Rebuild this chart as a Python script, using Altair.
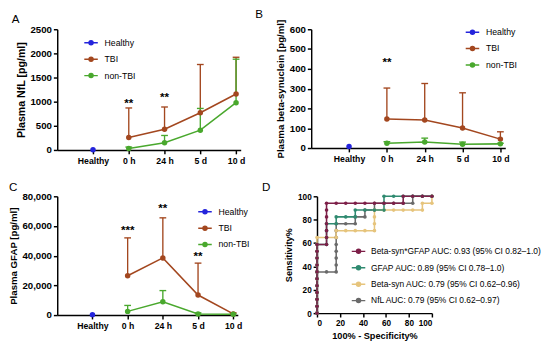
import altair as alt
import pandas as pd

FONT = "Liberation Sans"

# ---------------- shared categories / groups ----------------
categories = ["Healthy", "0 h", "24 h", "5 d", "10 d"]
groups = ["Healthy", "TBI", "non-TBI"]
group_colors = ["#2424dc", "#a3471f", "#49a82d"]

# ---------------- Panel A: NfL ----------------
nfl_healthy = [5]
nfl_tbi_mean = [260, 430, 770, 1160]
nfl_tbi_upper = [870, 890, 1770, 1920]
nfl_non_mean = [30, 150, 410, 980]
nfl_non_upper = [60, 300, 860, 1880]
nfl_star_cat = ["0 h", "24 h"]
nfl_star_val = [980, 1090]
nfl_star_txt = ["**", "**"]

# ---------------- Panel B: beta-synuclein ----------------
bsyn_healthy = [8]
bsyn_tbi_mean = [147, 142, 101, 45]
bsyn_tbi_upper = [303, 326, 279, 82]
bsyn_non_mean = [24, 30, 19, 21]
bsyn_non_upper = [32, 50, 30, 24]
bsyn_star_cat = ["0 h"]
bsyn_star_val = [435]
bsyn_star_txt = ["**"]

# ---------------- Panel C: GFAP ----------------
gfap_healthy = [300]
gfap_tbi_mean = [26500, 38500, 13500, 800]
gfap_tbi_upper = [52000, 65500, 35000, 1500]
gfap_non_mean = [2500, 9000, 800, 500]
gfap_non_upper = [6500, 16500, 1500, 800]
gfap_star_cat = ["0 h", "24 h", "5 d"]
gfap_star_val = [57500, 72000, 40000]
gfap_star_txt = ["***", "**", "**"]

# ---------------- Panel D: ROC ----------------
roc_names = [
    "Beta-syn*GFAP AUC: 0.93 (95% CI 0.82\u20131.0)",
    "GFAP AUC: 0.89 (95% CI 0.78\u20131.0)",
    "Beta-syn AUC: 0.79 (95% CI 0.62\u20130.96)",
    "NfL AUC: 0.79 (95% CI 0.62\u20130.97)",
]
roc_colors = ["#7d1f48", "#2f8a70", "#e6c47c", "#6a6a6a"]

combo_fpr = [0, 0, 0, 0, 0, 0, 0, 0, 0, 0, 0, 8.3, 8.3, 8.3, 8.3, 8.3, 8.3, 8.3,
             16.7, 25, 33.3, 41.7, 50, 58.3, 66.7, 75, 75, 83.3, 91.7, 100]
combo_tpr = [0, 5.9, 11.8, 17.6, 23.5, 29.4, 35.3, 41.2, 47.1, 52.9, 58.8, 58.8, 64.7, 70.6, 76.5, 82.4, 88.2, 94.1,
             94.1, 94.1, 94.1, 94.1, 94.1, 94.1, 94.1, 94.1, 100, 100, 100, 100]

gfap_fpr = [0, 0, 0, 0, 0, 0, 0, 0, 0, 0, 0, 8.3, 8.3, 8.3, 8.3, 16.7, 16.7, 25, 33.3, 33.3,
            41.7, 50, 58.3, 58.3, 58.3, 66.7, 75, 83.3, 91.7, 100]
gfap_tpr = [0, 5.9, 11.8, 17.6, 23.5, 29.4, 35.3, 41.2, 47.1, 52.9, 58.8, 58.8, 64.7, 70.6, 76.5, 76.5, 82.4, 82.4, 82.4, 88.2,
            88.2, 88.2, 88.2, 94.1, 100, 100, 100, 100, 100, 100]

bs_fpr = [0, 0, 0, 0, 0, 0, 0, 0, 0, 0, 0, 0, 8.3, 16.7, 16.7, 25, 33.3, 41.7, 50, 50, 50, 50,
          58.3, 66.7, 75, 83.3, 91.7, 91.7, 100, 100]
bs_tpr = [0, 5.9, 11.8, 17.6, 23.5, 29.4, 35.3, 41.2, 47.1, 52.9, 58.8, 64.7, 64.7, 64.7, 70.6, 70.6, 70.6, 70.6, 70.6, 76.5, 82.4, 88.2,
          88.2, 88.2, 88.2, 88.2, 88.2, 94.1, 94.1, 100]

nfl_fpr = [0, 0, 0, 0, 0, 0, 0, 8.3, 16.7, 16.7, 16.7, 16.7, 16.7, 16.7, 16.7, 16.7, 25, 33.3, 33.3, 41.7, 41.7,
           50, 50, 58.3, 66.7, 75, 83.3, 83.3, 91.7, 100]
nfl_tpr = [0, 5.9, 11.8, 17.6, 23.5, 29.4, 35.3, 35.3, 35.3, 41.2, 47.1, 52.9, 58.8, 64.7, 70.6, 76.5, 76.5, 76.5, 82.4, 82.4, 88.2,
           88.2, 94.1, 94.1, 94.1, 94.1, 94.1, 100, 100, 100]

# ---------------- helpers ----------------
LEGEND_PATH = ("M-1,0H1"
               "M-0.3,0A0.3,0.3,0,1,0,0.3,0A0.3,0.3,0,1,0,-0.3,0"
               "M-0.17,0A0.17,0.17,0,1,0,0.17,0A0.17,0.17,0,1,0,-0.17,0"
               "M-0.05,0A0.05,0.05,0,1,0,0.05,0A0.05,0.05,0,1,0,-0.05,0")

label_expr = "[''," + ",".join("'" + c + "'" for c in categories) + "][datum.value]"


def letter_title(letter, dx):
    return alt.TitleParams(letter, anchor="start", frame="group", dx=dx, offset=-2,
                           font=FONT, fontSize=12, fontWeight="normal", color="black")


def group_frame(healthy, tbi_mean, tbi_upper, non_mean, non_upper):
    rows = [dict(group="Healthy", pos=1, mean=healthy[0], upper=healthy[0])]
    for i, c in enumerate(categories[1:]):
        p = categories.index(c) + 1
        rows.append(dict(group="TBI", pos=p, mean=tbi_mean[i], upper=tbi_upper[i]))
        rows.append(dict(group="non-TBI", pos=p, mean=non_mean[i], upper=non_upper[i]))
    return pd.DataFrame(rows)


def star_frame(cats, vals, txts):
    return pd.DataFrame({"pos": [categories.index(c) + 1 for c in cats], "mean": vals, "txt": txts})


def group_panel(df, stars, ymax, ystep, yfmt, ytitle, tsize, width, height,
                letter, letter_dx, lx, ly):
    xaxis = alt.Axis(values=[1, 2, 3, 4, 5], labelExpr=label_expr, title=None,
                     labelFontSize=9, labelFontWeight="bold", labelPadding=3)
    xscale = alt.Scale(domain=[0, 5.13], nice=False, zero=False)
    x = alt.X("pos:Q", scale=xscale, axis=xaxis)
    yvals = list(range(0, ymax + 1, ystep))
    yaxis = alt.Axis(values=yvals, format=yfmt, title=ytitle, titleFontSize=tsize,
                     titleFontWeight="bold", labelFontSize=10, labelFontWeight="bold",
                     labelPadding=2, titlePadding=4, labelOverlap=False)
    yscale = alt.Scale(domain=[0, ymax], nice=False)
    y = alt.Y("mean:Q", scale=yscale, axis=yaxis)
    yu = alt.Y("upper:Q", scale=yscale, axis=yaxis)
    color = alt.Color("group:N", scale=alt.Scale(domain=groups, range=group_colors),
                      legend=alt.Legend(title=None, orient="none", legendX=lx, legendY=ly,
                                        symbolType=LEGEND_PATH, symbolSize=196,
                                        symbolStrokeWidth=1.5, symbolOpacity=1,
                                        labelFont=FONT, labelFontSize=9, labelColor="black",
                                        rowPadding=3, labelOffset=6))
    base = alt.Chart(df)
    err = base.transform_filter("datum.group != 'Healthy'")
    rules = err.mark_rule(strokeWidth=1.4).encode(x=x, y=y, y2="upper:Q", color=color)
    caps = err.mark_tick(orient="horizontal", size=7, thickness=1.4, opacity=1).encode(
        x=x, y=yu, color=color)
    lines = base.mark_line(strokeWidth=1.6).encode(x=x, y=y, color=color)
    pts = base.mark_point(filled=True, size=32, opacity=1).encode(x=x, y=y, color=color)
    txt = alt.Chart(stars).mark_text(font=FONT, fontWeight="bold", fontSize=12,
                                     baseline="middle", color="black").encode(
        x=x, y=y, text="txt:N")
    return alt.layer(rules, caps, lines, pts, txt).properties(
        width=width, height=height, title=letter_title(letter, letter_dx))


panel_a = group_panel(group_frame(nfl_healthy, nfl_tbi_mean, nfl_tbi_upper, nfl_non_mean, nfl_non_upper),
                      star_frame(nfl_star_cat, nfl_star_val, nfl_star_txt),
                      2500, 500, "d", "Plasma NfL [pg/ml]", 11, 190, 125, "A", -47, 27, 6)
panel_b = group_panel(group_frame(bsyn_healthy, bsyn_tbi_mean, bsyn_tbi_upper, bsyn_non_mean, bsyn_non_upper),
                      star_frame(bsyn_star_cat, bsyn_star_val, bsyn_star_txt),
                      600, 100, "d", "Plasma beta-synuclein [pg/ml]", 10, 201, 123, "B", -58, 159, -5)
panel_c = group_panel(group_frame(gfap_healthy, gfap_tbi_mean, gfap_tbi_upper, gfap_non_mean, gfap_non_upper),
                      star_frame(gfap_star_cat, gfap_star_val, gfap_star_txt),
                      80000, 20000, ",d", "Plasma GFAP [pg/ml]", 10, 187, 123, "C", -50, 145, 8)

# ROC frame (drawn NfL first so that the combined curve is on top)
roc_series = [(roc_names[3], nfl_fpr, nfl_tpr), (roc_names[2], bs_fpr, bs_tpr),
              (roc_names[1], gfap_fpr, gfap_tpr), (roc_names[0], combo_fpr, combo_tpr)]
roc_rows = []
for name, fx, fy in roc_series:
    for i, (a, b) in enumerate(zip(fx, fy)):
        roc_rows.append(dict(series=name, fpr=a, tpr=b, i=i))
roc_df = pd.DataFrame(roc_rows)

dx = alt.X("fpr:Q", scale=alt.Scale(domain=[0, 100], nice=False),
           axis=alt.Axis(values=[0, 20, 40, 60, 80, 100], title="100% - Specificity%",
                         titleFontSize=9.5, titleFontWeight="bold", labelFontSize=8.5,
                         labelFontWeight="bold", labelPadding=2, titlePadding=4))
dy = alt.Y("tpr:Q", scale=alt.Scale(domain=[0, 100], nice=False),
           axis=alt.Axis(values=[0, 20, 40, 60, 80, 100], title="Sensitivity%",
                         titleFontSize=9.5, titleFontWeight="bold", labelFontSize=8.5,
                         labelFontWeight="bold", labelPadding=2, titlePadding=4,
                         labelOverlap=False))
dcolor = alt.Color("series:N", scale=alt.Scale(domain=roc_names, range=roc_colors),
                   legend=alt.Legend(title=None, orient="none", legendX=35, legendY=49,
                                     symbolType=LEGEND_PATH, symbolSize=196,
                                     symbolStrokeWidth=1.5, symbolOpacity=1,
                                     labelFont=FONT, labelFontSize=8.7, labelColor="black",
                                     rowPadding=3, labelOffset=5, labelLimit=400))
roc_base = alt.Chart(roc_df)
roc_lines = roc_base.mark_line(strokeWidth=1.6).encode(x=dx, y=dy, color=dcolor, order="i:Q")
roc_pts = roc_base.mark_point(filled=True, size=14, opacity=1).encode(x=dx, y=dy, color=dcolor)
panel_d = alt.layer(roc_lines, roc_pts).properties(
    width=119, height=121, title=letter_title("D", -57))

top = alt.hconcat(panel_a, panel_b, spacing=10).resolve_scale(color="independent").resolve_legend(color="independent")
bottom = alt.hconcat(panel_c, panel_d, spacing=12).resolve_scale(color="independent").resolve_legend(color="independent")
chart = alt.vconcat(top, bottom, spacing=16).resolve_scale(color="independent").resolve_legend(
    color="independent").properties(
    padding={"left": 0, "top": -6, "right": 0, "bottom": 0}
).configure_view(stroke=None).configure_axis(
    grid=False, domainColor="black", domainWidth=1.5, tickColor="black", tickWidth=1.5,
    tickSize=4, labelColor="black", titleColor="black", labelFont=FONT, titleFont=FONT
)

chart.save("out.html", embed_options={"renderer": "svg", "actions": False})
